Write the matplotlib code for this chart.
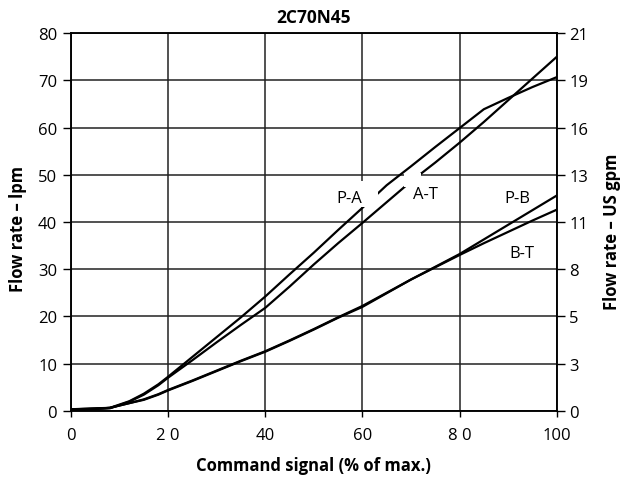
import matplotlib
matplotlib.use("Agg")
import matplotlib.pyplot as plt
from matplotlib.patches import Rectangle

plt.rcParams['font.family'] = ['Open Sans', 'DejaVu Sans']

# Command signal (% of max.)
signal = [0, 5, 8, 10, 12, 15, 18, 20, 25, 30, 35, 40, 45, 50, 55, 60, 65, 70, 75, 80, 85, 90, 95, 100]

# Flow rate (lpm) per path
flow_pa = [0.3, 0.5, 0.6, 1.3, 2.0, 3.6, 5.6, 7.2, 11.4, 15.6, 19.8, 24.2, 28.9, 33.5, 38.3, 43.0, 47.8, 51.8, 55.9, 59.9, 63.9, 66.3, 68.6, 70.7]
flow_at = [0.2, 0.4, 0.5, 1.2, 1.9, 3.4, 5.4, 7.0, 10.7, 14.5, 18.2, 21.8, 26.3, 31.0, 35.5, 39.8, 44.2, 48.6, 52.6, 56.8, 61.2, 65.8, 70.4, 75.0]
flow_pb = [0.3, 0.4, 0.6, 1.1, 1.6, 2.4, 3.5, 4.4, 6.4, 8.5, 10.6, 12.6, 14.9, 17.3, 19.8, 22.2, 25.0, 27.8, 30.5, 33.2, 36.3, 39.4, 42.5, 45.6]
flow_bt = [0.3, 0.4, 0.6, 1.1, 1.6, 2.3, 3.4, 4.3, 6.3, 8.4, 10.5, 12.5, 14.8, 17.2, 19.7, 22.0, 24.9, 27.8, 30.4, 33.0, 35.5, 37.9, 40.3, 42.6]

x_ticks = [0, 20, 40, 60, 80, 100]
x_ticklabels = ['0', '2 0', '40', '60', '8 0', '100']
lpm_ticks = [0, 10, 20, 30, 40, 50, 60, 70, 80]
gpm_ticklabels = ['0', '3', '5', '8', '11', '13', '16', '19', '21']

fig = plt.figure(figsize=(6.22, 4.81), dpi=100)
ax = fig.add_axes([0.1141, 0.1441, 0.7809, 0.7846])

for y in flow_pa, flow_at, flow_pb, flow_bt:
    ax.plot(signal, y, color='black', lw=1.6, zorder=3, solid_joinstyle='round')

# white breaks around the P-A / A-T labels
ax.add_patch(Rectangle((54.8, 43.2), 8.4, 5.5, facecolor='white', edgecolor='none', zorder=4))
ax.add_patch(Rectangle((68.6, 47.4), 3.5, 2.9, facecolor='white', edgecolor='none', zorder=4))

lab = dict(fontsize=12, ha='center', va='center', zorder=5)
ax.text(57.3, 45.1, 'P-A', **lab)
ax.text(73.0, 46.0, 'A-T', **lab)
ax.text(91.9, 45.1, 'P-B', **lab)
ax.text(92.8, 33.4, 'B-T', **lab)

ax.set_xlim(0, 100)
ax.set_ylim(0, 80)
ax.set_xticks(x_ticks)
ax.set_xticklabels(x_ticklabels)
ax.set_yticks(lpm_ticks)
ax.grid(True, color='#222222', lw=1.1, zorder=1)
ax.tick_params(axis='x', length=4, width=1, pad=8, labelsize=12)
ax.tick_params(axis='y', length=6, width=1, pad=4, labelsize=12)
for s in ax.spines.values():
    s.set_linewidth(1.1)

ax2 = ax.twinx()
ax2.set_ylim(0, 80)
ax2.set_yticks(lpm_ticks)
ax2.set_yticklabels(gpm_ticklabels)
ax2.tick_params(axis='y', length=6, width=1, pad=3, labelsize=12)
for s in ax2.spines.values():
    s.set_linewidth(1.1)

ax.set_title('2C70N45', fontsize=12.5, fontweight='bold', pad=8)
fig.text(313.8 / 622, 1 - 466 / 481, 'Command signal (% of max.)', fontsize=12,
         fontweight='bold', ha='center', va='center')
fig.text(9 / 622, 1 - 229.5 / 481, 'Flow rate – lpm', fontsize=12, fontweight='bold',
         rotation=90, ha='left', va='center')
fig.text(603 / 622, 1 - 231.5 / 481, 'Flow rate – US gpm', fontsize=12, fontweight='bold',
         rotation=90, ha='left', va='center')

fig.savefig('out.png', dpi=100)
